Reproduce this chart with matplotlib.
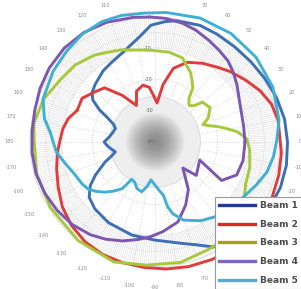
import numpy as np
import matplotlib
matplotlib.use("Agg")
import matplotlib.pyplot as plt
from matplotlib.lines import Line2D

# ---- data (angle in degrees, gain in dB) ----
beam_names = ["Beam 1", "Beam 2", "Beam 3", "Beam 4", "Beam 5"]

beam1_theta = [299, 308, 318, 330, 340, 350, 360, 370, 380, 390, 400, 410, 420, 429, 440, 445, 452, 458,
               464, 470, 478, 486, 496, 502, 506, 510, 513, 517, 521, 527, 535, 540, 546, 554, 558, 562,
               569, 574, 580, 588, 600, 616, 630, 645, 652, 659]
beam1_db = [-1.6, 0.0, 1.3, 2.2, 2.7, 2.7, 2.4, 2.1, 1.4, 0.6, 0.0, -0.3, -0.2, 0.0, -0.6, -1.3, -2.6,
            -5.8, -8.0, -9.6, -10.9, -11.8, -13.4, -14.4, -16.0, -19.5, -23.0, -25.6, -26.6, -26.2,
            -25.0, -23.7, -25.0, -26.9, -25.3, -22.7, -18.2, -15.0, -12.5, -11.2, -10.2, -9.3, -8.6,
            -6.4, -4.5, -1.6]

beam2_theta = [158, 165, 172, 179, 186, 195, 205, 215, 225, 235, 245, 255, 265, 275, 285, 296, 305, 315,
               325, 335, 345, 355, 370, 378, 386, 394, 403, 410, 419, 428, 436, 442, 447, 452, 456, 462,
               470, 477, 485, 493, 500, 509, 518]
beam2_db = [-13.1, -11.2, -10.2, -9.6, -8.6, -7.4, -5.8, -3.8, -2.2, -1.0, -0.3, 0.0, 0.3, 0.8, 1.3,
            1.8, 2.1, 2.2, 1.9, 1.4, 1.0, 0.6, 0.0, -0.8, -2.6, -4.8, -7.0, -8.8, -10.6, -12.5, -15.7,
            -21.4, -27.5, -25.0, -22.4, -21.4, -22.7, -26.9, -21.8, -16.3, -15.0, -12.8, -13.1]

beam3_theta = [335, 345, 355, 362, 367, 371, 374, 377, 380, 384, 392, 400, 403, 407, 412, 415, 419, 423,
               432, 441, 453, 462, 470, 478, 485, 496, 506, 519, 531, 539, 555, 572, 592, 611, 626, 642,
               656, 668, 682, 695]
beam3_db = [-8.0, -8.6, -9.6, -10.6, -13.4, -17.0, -19.5, -22.1, -23.7, -21.4, -19.2, -20.2, -23.0,
            -24.0, -22.4, -18.9, -17.0, -15.0, -11.7, -10.9, -10.6, -9.9, -8.6, -7.5, -6.1, -4.5, -3.8,
            -1.8, -0.8, -1.3, -0.8, -0.5, 0.0, 0.6, -0.5, -0.6, -1.6, -1.4, -4.2, -8.0]

beam4_theta = [0, 10, 20, 28, 35, 42, 48, 55, 62, 70, 77, 85, 92, 100, 112, 123, 134, 145, 155, 165, 175,
               185, 195, 205, 215, 225, 235, 243, 252, 260, 267, 275, 286, 296, 305, 317, 321, 338, 330,
               338, 348, 360]
beam4_db = [-11.2, -11.2, -10.7, -9.6, -8.0, -6.4, -5.1, -4.2, -3.2, -1.9, -1.0, -0.3, 0.0, 0.5, 1.3,
            1.8, 1.8, 1.3, 0.6, -0.2, -0.5, -0.5, -0.6, -1.1, -1.8, -2.6, -3.8, -5.1, -6.7, -8.3, -9.6,
            -11.2, -13.4, -17.6, -21.4, -27.8, -23.0, -24.6, -15.4, -11.8, -11.2, -11.2]

beam5_theta = [175, 180, 186, 194, 202, 210, 215, 220, 225, 230, 235, 238, 243, 249, 255, 260, 264, 270,
               276, 279, 281, 284, 290, 300, 310, 320, 328, 337, 345, 353, 361, 370, 385, 400, 415, 430,
               445, 455, 465, 474, 484, 494, 505, 519, 528, 535]
beam5_db = [-6.4, -7.4, -8.3, -10.6, -12.3, -13.1, -13.8, -15.4, -17.3, -19.5, -21.8, -25.9, -25.6,
            -24.0, -23.5, -25.6, -27.8, -26.2, -24.0, -22.7, -18.9, -16.3, -13.4, -10.9, -9.0, -7.7,
            -6.7, -4.8, -2.9, -1.8, -1.0, 0.3, 1.6, 2.2, 2.4, 2.2, 1.6, 1.4, 1.9, 2.1, 1.6, 0.6, -0.3,
            -1.6, -3.8, -6.4]

beam_thetas = [beam1_theta, beam2_theta, beam3_theta, beam4_theta, beam5_theta]
beam_dbs = [beam1_db, beam2_db, beam3_db, beam4_db, beam5_db]

angle_ticks = list(range(-170, 190, 10))
radial_ticks = [-40, -30, -20, -10, 0]

# ---- style ----
curve_colors = ["#3d6fb6", "#e03c3c", "#a6c93c", "#7d55b3", "#3fb0d4"]
legend_colors = ["#1f3d90", "#e3262b", "#a3a313", "#7b68b8", "#55aad4"]
RMIN, RMAX = -40, 0

fig = plt.figure(figsize=(3.01, 2.89), dpi=100)
ax = fig.add_axes([0.0997, 0.0762, 0.8306, 0.865], projection="polar")
ax.set_rlim(RMIN, RMAX)
ax.set_xticks([])
ax.set_yticks([])
ax.grid(False)
ax.spines["polar"].set_color("#d8d8d8")
ax.spines["polar"].set_linewidth(0.6)
ax.set_facecolor("white")

# grid: dense hatch band, radial spokes, rings
for d in np.arange(0, 360, 1.0):
    t = np.radians(d)
    ax.plot([t, t], [-10, 0], color="#dadada", lw=0.35, zorder=1)
for d in range(0, 360, 10):
    t = np.radians(d)
    ax.plot([t, t], [RMIN, 0], color="#d4d4d4", lw=0.5, ls=(0, (2, 2)), zorder=1)
ring_t = np.linspace(0, 2 * np.pi, 361)
for rr in [-30, -20, -10, -5]:
    ax.plot(ring_t, np.full_like(ring_t, rr), color="#cfcfcf", lw=0.5, ls=(0, (2, 2)), zorder=1)

# central gray blob (decoration)
tg = np.linspace(0, 2 * np.pi, 181)
rg = np.linspace(RMIN, -25.5, 60)
TG, RG = np.meshgrid(tg, rg)
frac = (RG - RMIN) / (-30.5 - RMIN)
shade = np.where(frac <= 1, 0.55 + 0.37 * np.clip(frac, 0, 1) ** 1.6, 0.93)
ax.pcolormesh(TG, RG, shade, cmap="gray", vmin=0, vmax=1, shading="gouraud", zorder=2)
ax.plot(ring_t, np.full_like(ring_t, -25.5), color="#d6d6d6", lw=0.5, zorder=2)

# angle labels
for a in angle_ticks:
    ax.text(np.radians(a), 6.6, str(a), fontsize=3.6, color="#8a8a8a", ha="center", va="center",
            clip_on=False)
# radial labels
for rv in radial_ticks:
    ax.text(np.radians(92), rv, str(rv), fontsize=3.4, color="#666666", ha="right", va="center",
            zorder=2.5)

# beams
for th, db, c in zip(beam_thetas, beam_dbs, curve_colors):
    ax.plot(np.radians(th), db, color=c, lw=2.1, solid_joinstyle="round", solid_capstyle="round",
            clip_on=False, zorder=3)

handles = [Line2D([0], [0], color=c, lw=2.4) for c in legend_colors]
leg = fig.legend(handles, beam_names, loc="upper left", bbox_to_anchor=(0.714, 0.318),
                 prop={"size": 6.5, "weight": "bold"}, labelcolor="#4a4a4a", handlelength=4.0,
                 handletextpad=0.55, labelspacing=1.07, borderpad=0.45, borderaxespad=0.0,
                 frameon=True, fancybox=False, edgecolor="#9a9a9a", framealpha=1)
leg.get_frame().set_linewidth(0.8)
leg.set_zorder(10)

fig.savefig("out.png", dpi=100)
